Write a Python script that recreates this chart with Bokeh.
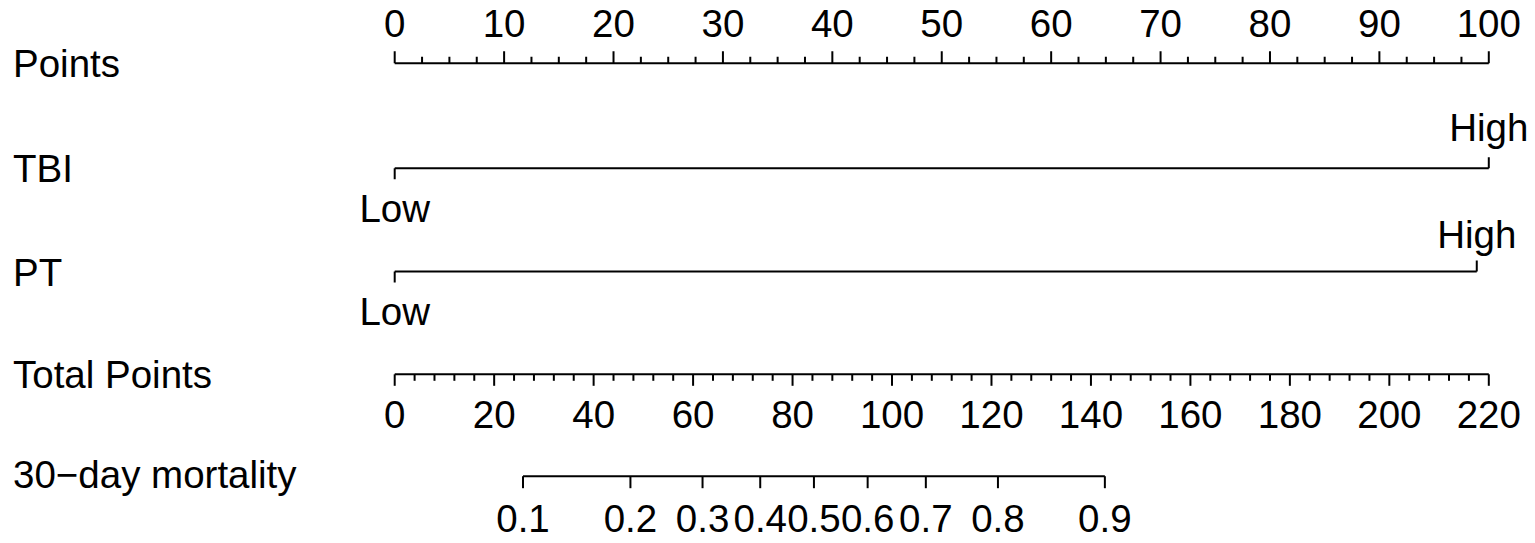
import numpy as np
from bokeh.plotting import figure
from bokeh.models import Range1d
from bokeh.core.properties import value
from bokeh.embed import file_html
from bokeh.resources import INLINE

# ---- data ----
row_labels = ["Points", "TBI", "PT", "Total Points", "30\u2212day mortality"]
points_major = [0, 10, 20, 30, 40, 50, 60, 70, 80, 90, 100]
points_minor_step = 2.5
tbi_levels = ["Low", "High"]
tbi_points = [0, 100]
pt_levels = ["Low", "High"]
pt_points = [0, 98.9]
total_major = [0, 20, 40, 60, 80, 100, 120, 140, 160, 180, 200, 220]
total_minor_step = 4
total_max = 220
mort_probs = ["0.1", "0.2", "0.3", "0.4", "0.5", "0.6", "0.7", "0.8", "0.9"]
mort_total = [25.8, 47.4, 61.9, 73.5, 84.3, 95.1, 106.8, 121.3, 142.8]

# ---- layout (page pixel rows) ----
W, H = 1535, 543
FONT = value("Liberation Sans")
FS = "38.5px"
px_per_pt = 10.941
x0_page = 394.2
TOFF = -14  # text baseline correction


def pt_at(page_x):
    return (page_x - x0_page) / px_per_pt


p = figure(width=W, height=H, output_backend="svg", toolbar_location=None,
           x_range=Range1d(pt_at(0), pt_at(W)), y_range=Range1d(H, 0),
           min_border=0, outline_line_color=None)
p.axis.visible = False
p.grid.visible = False
p.background_fill_color = "white"
p.border_fill_color = "white"

LW = 2
COL = "black"


def tscale(t):
    return np.asarray(t, dtype=float) * 100.0 / total_max


def txt(xs, ys, labels, align="center"):
    p.text(x=list(xs), y=[y + TOFF for y in ys], text=labels,
           text_font=FONT, text_font_size=FS, text_baseline="alphabetic",
           text_align=align, text_color=COL)


# row labels
label_x = pt_at(12.5)
label_base = [76.5, 181.5, 285.5, 387.5, 487.5]
txt([label_x] * len(row_labels), label_base, row_labels, align="left")

# ---- Points axis ----
yp = 62.7
p.segment(x0=[0], y0=[yp], x1=[100], y1=[yp], line_width=LW, line_color=COL)
minor = [v for v in np.arange(0, 100 + 1e-9, points_minor_step) if v not in points_major]
p.segment(x0=minor, y0=[yp] * len(minor), x1=minor, y1=[yp - 6.5] * len(minor),
          line_width=LW, line_color=COL)
p.segment(x0=points_major, y0=[yp] * len(points_major), x1=points_major,
          y1=[yp - 12] * len(points_major), line_width=LW, line_color=COL)
txt(points_major, [36.5] * len(points_major), [str(v) for v in points_major])

# ---- categorical rows ----
def cat_row(levels, pts, yline, high_base, low_base):
    p.segment(x0=[pts[0]], y0=[yline], x1=[pts[1]], y1=[yline], line_width=LW, line_color=COL)
    # low tick down, high tick up
    p.segment(x0=[pts[0]], y0=[yline], x1=[pts[0]], y1=[yline + 11], line_width=LW, line_color=COL)
    p.segment(x0=[pts[1]], y0=[yline], x1=[pts[1]], y1=[yline - 11], line_width=LW, line_color=COL)
    txt([pts[0], pts[1]], [low_base, high_base], levels)


cat_row(tbi_levels, tbi_points, 167.7, 140.8, 221.7)
cat_row(pt_levels, pt_points, 271.0, 248.0, 325.0)

# ---- Total points axis ----
yt = 373.8
p.segment(x0=[0], y0=[yt], x1=[100], y1=[yt], line_width=LW, line_color=COL)
tminor = [v for v in np.arange(0, total_max + 1e-9, total_minor_step) if v not in total_major]
p.segment(x0=tscale(tminor), y0=[yt] * len(tminor), x1=tscale(tminor),
          y1=[yt + 6.5] * len(tminor), line_width=LW, line_color=COL)
p.segment(x0=tscale(total_major), y0=[yt] * len(total_major), x1=tscale(total_major),
          y1=[yt + 11.5] * len(total_major), line_width=LW, line_color=COL)
txt(tscale(total_major), [427.5] * len(total_major), [str(v) for v in total_major])

# ---- Mortality axis ----
ym = 475.7
mx = tscale(mort_total)
p.segment(x0=[mx[0]], y0=[ym], x1=[mx[-1]], y1=[ym], line_width=LW, line_color=COL)
p.segment(x0=mx, y0=[ym] * len(mx), x1=mx, y1=[ym + 12] * len(mx), line_width=LW, line_color=COL)
txt(mx, [531.5] * len(mx), mort_probs)

open("out.html", "w").write(file_html(p, INLINE))
